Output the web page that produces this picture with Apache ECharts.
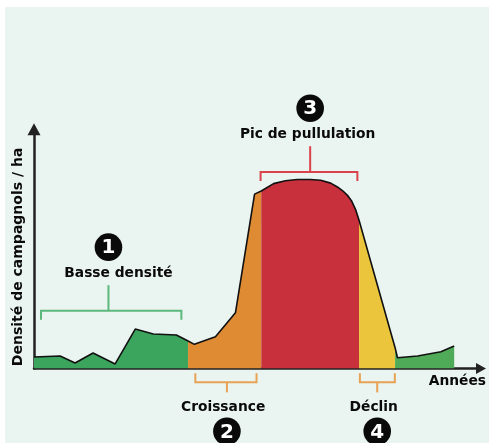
<!DOCTYPE html>
<html>
<head>
<meta charset="utf-8">
<script src="https://cdn.jsdelivr.net/npm/echarts@6/dist/echarts.min.js"></script>
<style>
  html, body { margin: 0; padding: 0; background: #fff; }
  #main { width: 489px; height: 443px; }
</style>
</head>
<body>
<div id="main"></div>
<script>
// courbe de densité (années, densité relative)
var years = [0, 1.87, 2.94, 4.23, 5.81, 7.25, 8.54, 10.19, 11.03, 11.48, 12.99, 14.42, 15.79, 16.27,
  17.15, 18.0, 18.85, 19.8, 20.52, 21.24, 21.72, 22.1, 22.44, 22.75, 23.04, 23.27, 25.85, 26.02,
  27.46, 29.13, 30.08];
var density = [4.8, 5.2, 2.3, 6.5, 1.9, 16.5, 14.4, 14.0, 11.5, 10.1, 13.3, 23.3, 72.9, 74.2,
  77.3, 78.5, 79.0, 79.0, 78.7, 77.5, 75.9, 74.3, 72.4, 69.9, 66.2, 62.0, 8.7, 4.5,
  5.2, 7.0, 9.4];
// indices de début/fin de chaque phase
var phaseBounds = [0, 8, 13, 25, 26, 30];
var phaseColors = ['#3ba55d', '#df8b34', '#c8303b', '#ebc53b', '#50ab58'];

// accolades : [début, fin, tige, position du texte, niveau, sens (1 = au-dessus, -1 = en dessous)]
var annRanges = [
  [0.5, 10.55, 5.33, 6.05, 24.1, 1],
  [11.55, 15.93, 13.81, 13.54, -5.8, -1],
  [16.22, 23.15, 19.77, 19.59, 82.2, 1],
  [23.33, 25.83, 24.57, 24.32, -5.8, -1]
];
var annLabels = ['Basse densité', 'Croissance', 'Pic de pullulation', 'Déclin'];
var annNumbers = ['1', '2', '3', '4'];
var annColors = ['#5cb87c', '#e8a253', '#d8434c', '#e8a253'];

var myChart = echarts.init(document.getElementById('main'));

var points = years.map(function (x, i) { return [x, density[i]]; });

var series = [];
for (var p = 0; p < phaseBounds.length - 1; p++) {
  series.push({
    type: 'line',
    data: points.slice(phaseBounds[p], phaseBounds[p + 1] + 1),
    symbol: 'none',
    silent: true,
    lineStyle: { width: 0, opacity: 0 },
    areaStyle: { color: phaseColors[p], opacity: 1 },
    z: 2
  });
}

// contour noir
series.push({
  type: 'line',
  data: points,
  symbol: 'none',
  silent: true,
  lineStyle: { color: '#111', width: 1.6 },
  z: 3
});

function renderBracket(params, api) {
  var i = params.dataIndex;
  var p0 = api.coord([api.value(0), api.value(4)]);
  var p1 = api.coord([api.value(1), api.value(4)]);
  var ps = api.coord([api.value(2), api.value(4)]);
  var pl = api.coord([api.value(3), api.value(4)]);
  var dir = api.value(5);
  var y = p0[1];
  var tick = 9 * dir;
  var yStemEnd = y - dir * (dir > 0 ? 25.7 : 10);
  var yText = yStemEnd - dir * (dir > 0 ? 11.5 : 14.7);
  var yCircle = yStemEnd - dir * (dir > 0 ? 38 : 39);
  var color = annColors[i];
  return {
    type: 'group',
    children: [
      {
        type: 'polyline',
        shape: { points: [[p0[0], y + tick], [p0[0], y], [p1[0], y], [p1[0], y + tick]] },
        style: { stroke: color, lineWidth: 2, fill: 'none' }
      },
      {
        type: 'line',
        shape: { x1: ps[0], y1: y, x2: ps[0], y2: yStemEnd },
        style: { stroke: color, lineWidth: 2 }
      },
      {
        type: 'text',
        x: pl[0], y: yText,
        style: {
          text: annLabels[i], fill: '#0a0a0a',
          font: 'bold 13.8px "DejaVu Sans"',
          align: 'center', verticalAlign: 'middle'
        }
      },
      {
        type: 'circle',
        shape: { cx: ps[0], cy: yCircle, r: 13.8 },
        style: { fill: '#0a0a0a' }
      },
      {
        type: 'text',
        x: ps[0], y: yCircle + 1,
        style: {
          text: annNumbers[i], fill: '#fff',
          font: 'bold 20px "DejaVu Sans"',
          align: 'center', verticalAlign: 'middle'
        }
      }
    ]
  };
}

series.push({
  type: 'custom',
  renderItem: renderBracket,
  data: annRanges,
  encode: { x: [0, 1, 2, 3], y: 4 },
  clip: false,
  silent: true,
  z: 5
});

var option = {
  backgroundColor: '#fff',
  animation: false,
  graphic: [{
    type: 'rect',
    left: 5, top: 7,
    shape: { width: 484, height: 436 },
    style: { fill: '#eaf4f0' },
    z: -10
  }],
  grid: { left: 34, right: 8, top: 129.3, bottom: 74.5 },
  xAxis: {
    type: 'value',
    min: 0,
    max: 32,
    name: 'Années',
    nameLocation: 'end',
    nameGap: 5,
    nameTextStyle: {
      color: '#0a0a0a', fontWeight: 'bold', fontSize: 13.8, fontFamily: 'DejaVu Sans',
      align: 'right', verticalAlign: 'top', padding: [6, 0, 0, 0]
    },
    axisLine: {
      show: true,
      symbol: ['none', 'triangle'],
      symbolSize: [11, 10],
      lineStyle: { color: '#222', width: 2.5 }
    },
    axisTick: { show: false },
    axisLabel: { show: false },
    splitLine: { show: false }
  },
  yAxis: {
    type: 'value',
    min: 0,
    max: 100,
    name: 'Densité de campagnols / ha',
    nameLocation: 'middle',
    nameGap: 9,
    nameRotate: 90,
    nameTextStyle: {
      color: '#0a0a0a', fontWeight: 'bold', fontSize: 14, fontFamily: 'DejaVu Sans',
      padding: [0, 16, 0, 0]
    },
    axisLine: {
      show: true,
      symbol: ['none', 'triangle'],
      symbolSize: [13, 12],
      lineStyle: { color: '#222', width: 2.5 }
    },
    axisTick: { show: false },
    axisLabel: { show: false },
    splitLine: { show: false }
  },
  series: series
};

option && myChart.setOption(option);
</script>
</body>
</html>
